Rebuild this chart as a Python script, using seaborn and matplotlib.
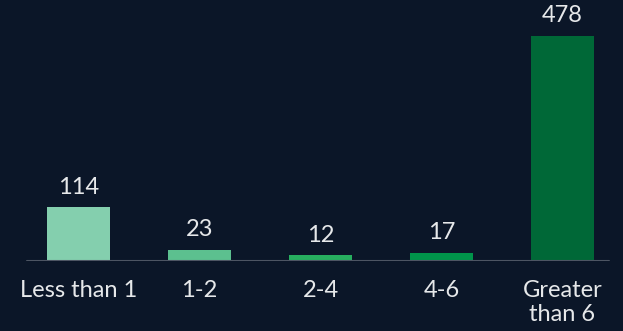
import matplotlib
matplotlib.use("Agg")
import matplotlib.pyplot as plt
import seaborn as sns
import pandas as pd

categories = ["Less than 1", "1-2", "2-4", "4-6", "Greater\nthan 6"]
values = [114, 23, 12, 17, 478]
colors = ["#84cfae", "#5cc08f", "#27ae5f", "#00944a", "#006837"]

BG = "#0b1628"
TXT = "#e6e8ea"

sns.set_theme(style="white")
plt.rcParams["font.family"] = ["Lato", "DejaVu Sans"]

df = pd.DataFrame({"cat": categories, "val": values})

fig = plt.figure(figsize=(6.23, 3.31), dpi=100, facecolor=BG)
ax = fig.add_axes([0, 0.2115, 1, 0.7885])
ax.set_facecolor(BG)

sns.barplot(data=df, x="cat", y="val", hue="cat", palette=colors,
            legend=False, width=0.52, ax=ax, saturation=1, linewidth=0)

for c in ax.containers:
    ax.bar_label(c, padding=7, color=TXT, fontsize=17)

ax.set_xlim(-0.649, 4.5)
ax.set_ylim(0, 554)
ax.axhline(0, xmin=0.043, xmax=0.978, color="#4d5563", lw=1.5, zorder=5)

for s in ax.spines.values():
    s.set_visible(False)
ax.set_yticks([])
ax.set_xlabel("")
ax.set_ylabel("")
ax.tick_params(axis="x", length=0, pad=14, colors=TXT, labelsize=17)
for t in ax.get_xticklabels():
    t.set_linespacing(1.15)

fig.savefig("out.png", dpi=100, facecolor=BG)
